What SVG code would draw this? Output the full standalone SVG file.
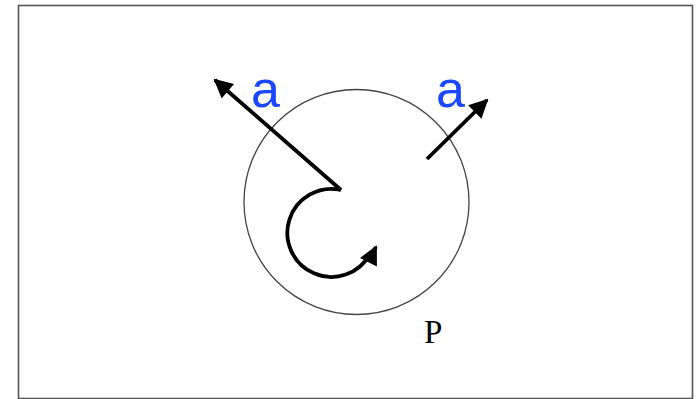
<svg xmlns="http://www.w3.org/2000/svg" width="700" height="399" viewBox="0 0 700 399">
  <defs>
    <marker id="ah" viewBox="0 0 10 10" refX="9" refY="5" markerWidth="5.3" markerHeight="5" markerUnits="strokeWidth" orient="auto">
      <path d="M0,0 L10,5 L0,10 z" fill="#000"/>
    </marker>
  </defs>
  <style>
    .arr { fill: none; stroke: #000; stroke-width: 3.8; marker-end: url(#ah); stroke-linejoin: round; }
    .lbl { font-family: "Liberation Sans", Arial, sans-serif; font-size: 52px; fill: #1a47ff; }
    .p { font-family: "Liberation Serif", "Times New Roman", serif; font-size: 33px; fill: #000; }
  </style>
  <rect x="0" y="0" width="700" height="399" fill="#fff"/>
  <rect id="frame" x="18.5" y="5.5" width="674" height="393" fill="none" stroke="#555" stroke-width="1.6"/>
  <g id="circle-P">
    <circle cx="356.5" cy="202" r="112.5" fill="none" stroke="#444" stroke-width="1.3"/>
    <text class="p" x="424" y="343">P</text>
  </g>
  <g id="labels">
    <text class="lbl" x="251" y="107">a</text>
    <text class="lbl" x="436" y="107">a</text>
  </g>
  <g id="connectors">
    <path class="arr" d="M341,190 L215,80"/>
    <path class="arr" d="M427,159 L487,100"/>
    <path class="arr" d="M341,190 A44,44 0 1 0 370,254 Q374,251 376,247"/>
  </g>
</svg>
